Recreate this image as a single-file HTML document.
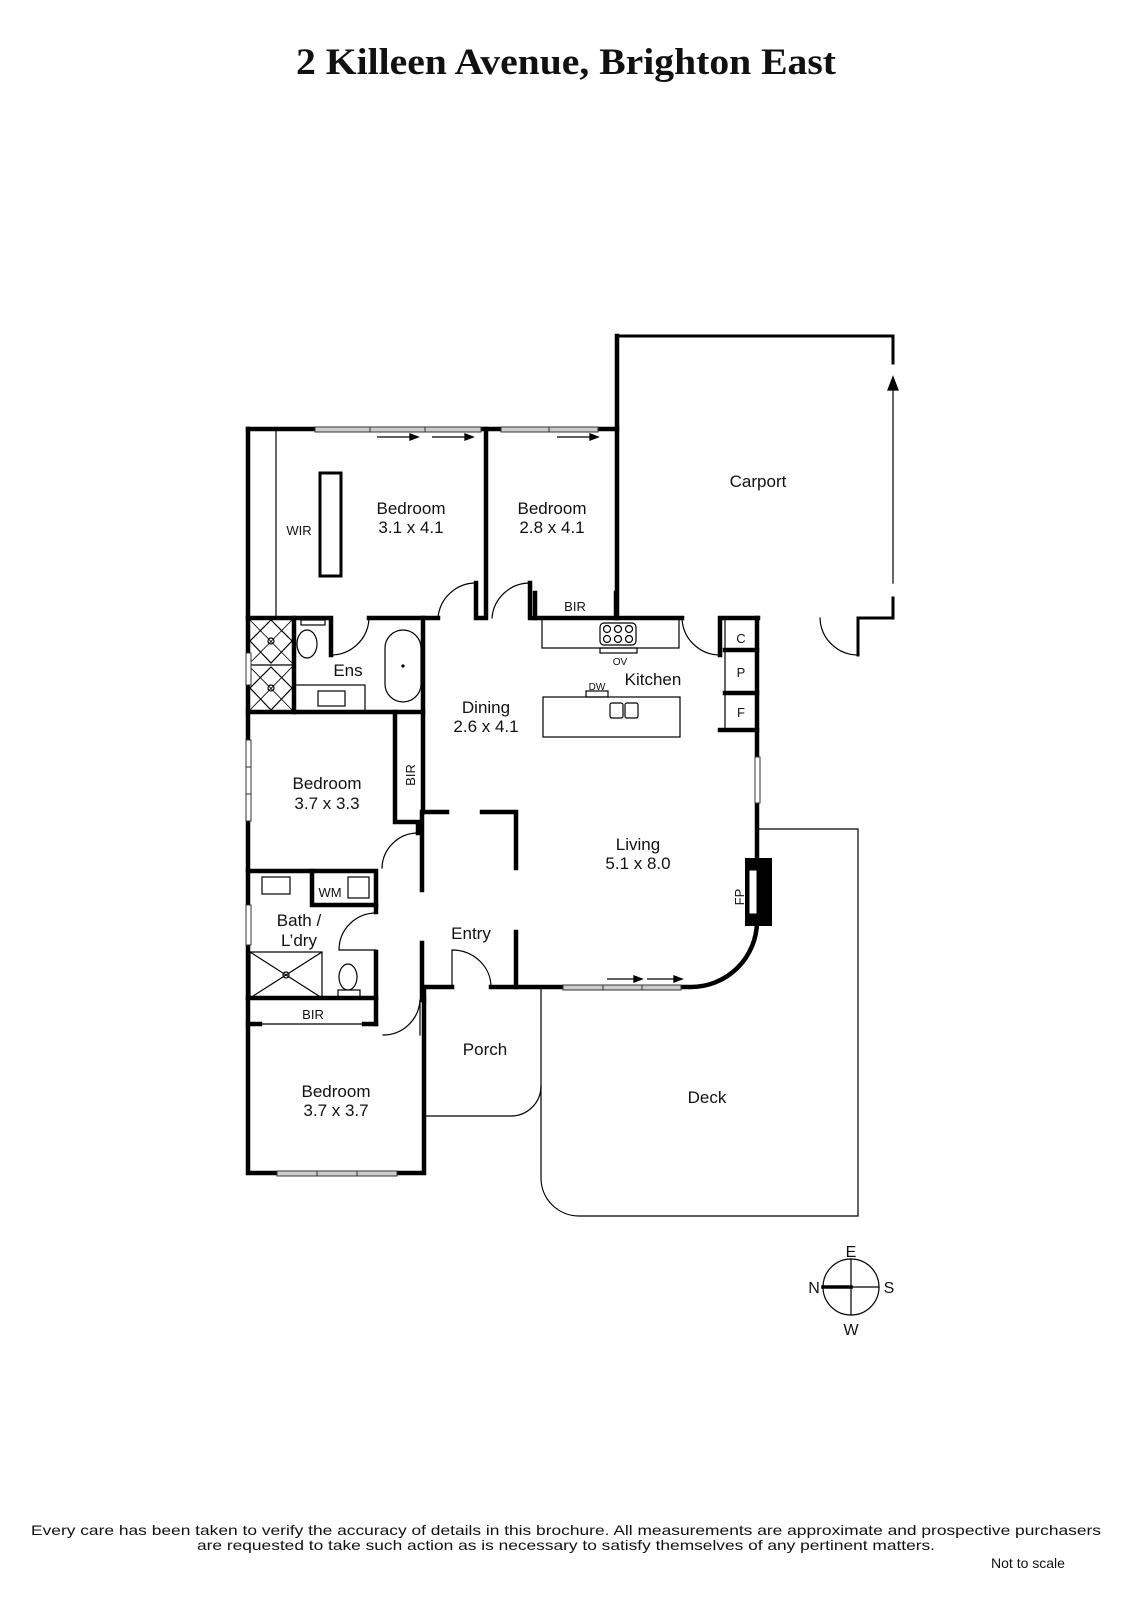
<!DOCTYPE html>
<html><head><meta charset="utf-8"><style>
html,body{margin:0;padding:0;background:#fff;}
svg{display:block;}
text{font-family:"Liberation Sans",sans-serif;fill:#111;}
</style></head><body>
<svg width="1131" height="1600" viewBox="0 0 1131 1600" xmlns="http://www.w3.org/2000/svg">
<text x="566" y="74" text-anchor="middle" textLength="540" lengthAdjust="spacingAndGlyphs" style="font-family:'Liberation Serif',serif;font-weight:bold;font-size:37px">2 Killeen Avenue, Brighton East</text>

<g fill="none" stroke="#000" stroke-linecap="square">
<g stroke-width="4.5">
<path d="M248,429 V1173 H424 V1000"/>
<path d="M248,429 H617"/>
<path d="M617,336 V618"/>
<path d="M486,429 V618 H476 V583"/>
<path d="M248,618 H331 V655"/>
<path d="M369,618 H438"/>
<path d="M530,583 V618 H682"/>
<path d="M535,593 V618 M616,593 V618"/>
<path d="M720,618 V655 M720,618 H758"/>
<path d="M757,618 V922 A66 66 0 0 1 691,987 H681"/>
<path d="M563,987 H491 M452,987 H424 V1000"/>
<path d="M516,932 V987"/>
<path d="M516,812 V868 M482,812 H516 M423,812 H447"/>
<path d="M423,618 V812"/>
<path d="M422,812 V890 M422,943 V1000"/>
<path d="M248,712 H423"/>
<path d="M395,712 V822 H418 V833"/>
<path d="M248,871 H376 V912 M376,952 V1024"/>
<path d="M248,1024 H260 M364,1024 H376"/>
<path d="M725,650 H757 M725,693 H757 M720,730 H757"/>
<path d="M294,618 V712"/>
<path d="M248,998 H376"/>
<path d="M312,871 V905 H376"/>
</g>
<g stroke-width="3">
<path d="M617,336 H893 V363"/>
<path d="M893,598 V618 H858 V655"/>
<path d="M758,618 H721"/>
</g>
<g stroke-width="1.2">
<path d="M276,429 V618"/>
<rect x="320" y="473" width="21" height="103" stroke-width="3"/>
<path d="M725,618 V730"/>
<path d="M476,583 A38 38 0 0 0 438,618"/>
<path d="M530,583 A38 38 0 0 0 492,618"/>
<path d="M331,655 A38 38 0 0 0 369,618"/>
<path d="M682,618 A38 38 0 0 0 720,655"/>
<path d="M858,655 A38 38 0 0 1 820,618"/>
<path d="M893,383 V583"/>
<rect x="542" y="618" width="137" height="30"/>
<rect x="600" y="623" width="36" height="22" rx="4"/>
<circle cx="607" cy="629" r="3.5"/><circle cx="618" cy="629" r="3.5"/><circle cx="629" cy="629" r="3.5"/>
<circle cx="607" cy="639" r="3.5"/><circle cx="618" cy="639" r="3.5"/><circle cx="629" cy="639" r="3.5"/>
<rect x="600" y="648" width="37" height="5"/>
<rect x="543" y="697" width="137" height="40"/>
<rect x="586" y="691" width="22" height="6"/>
<rect x="610" y="703" width="13" height="15" rx="2"/>
<rect x="625" y="703" width="13" height="15" rx="2"/>
<path d="M248,618 H294 M248,665 H294"/>
<path d="M271,620 L292,641 L271,663 L250,641 Z M271,667 L292,688 L271,710 L250,688 Z"/>
<path d="M248,618 L294,665 M294,618 L248,665 M248,665 L294,712 M294,665 L248,712" stroke-width="0.8"/>
<circle cx="271" cy="641" r="3"/><circle cx="271" cy="688" r="3"/>
<ellipse cx="307" cy="644" rx="10" ry="14"/>
<rect x="301" y="620" width="24" height="5"/>
<rect x="385" y="630" width="36" height="72" rx="18"/>
<circle cx="403" cy="666" r="1" fill="#000"/>
<rect x="294" y="685" width="71" height="27"/>
<rect x="318" y="691" width="27" height="15"/>
<path d="M417,833 A36 36 0 0 0 382,868"/>
<rect x="262" y="877" width="28" height="17"/>
<rect x="348" y="877" width="21" height="21"/>
<path d="M376,913 A37 37 0 0 0 339,950 H376"/>
<rect x="250" y="952" width="72" height="46"/>
<path d="M250,952 L322,998 M322,952 L250,998"/>
<circle cx="286" cy="975" r="3"/>
<ellipse cx="348" cy="977" rx="9" ry="13"/>
<rect x="338" y="990" width="22" height="8"/>
<path d="M260,1024 H364"/>
<path d="M420,1000 A37 37 0 0 1 383,1035 M420,1000 V1035"/>
<path d="M452,987 V950 A39 37 0 0 1 491,987"/>
<path d="M758,829 H858 V1216 H579 A38 38 0 0 1 541,1178 V987"/>
<path d="M424,1116 H511 A30 30 0 0 0 541,1086"/>
<circle cx="851" cy="1287" r="28"/>
<path d="M851,1259 V1315 M823,1287 H879"/>
</g>
<path d="M823,1287 H851" stroke-width="3.5"/>
<rect x="745" y="858" width="27" height="68" fill="#000" stroke="none"/>
<rect x="749" y="870" width="8" height="44" fill="#fff" stroke="#000" stroke-width="1"/>
</g>

<g fill="#ccc" stroke="#333" stroke-width="1">
<rect x="315" y="427" width="55" height="5"/><rect x="370" y="427" width="55" height="5"/><rect x="425" y="427" width="56" height="5"/>
<rect x="501" y="427" width="48" height="5"/><rect x="549" y="427" width="49" height="5"/>
<rect x="277" y="1171" width="40" height="5"/><rect x="317" y="1171" width="40" height="5"/><rect x="357" y="1171" width="40" height="5"/>
<rect x="563" y="985" width="40" height="5"/><rect x="603" y="985" width="39" height="5"/><rect x="642" y="985" width="39" height="5"/>
<rect x="246" y="653" width="5" height="32" fill="#fff"/>
<rect x="246" y="740" width="5" height="27" fill="#fff"/><rect x="246" y="767" width="5" height="27" fill="#fff"/><rect x="246" y="794" width="5" height="27" fill="#fff"/>
<rect x="246" y="905" width="5" height="40" fill="#fff"/>
<rect x="755" y="757" width="5" height="46" fill="#fff"/>
</g>
<g stroke="#000" stroke-width="1.3" fill="#000">
<path d="M377,437 H412"/><path d="M418,437 L410,434 V440 Z"/>
<path d="M432,437 H467"/><path d="M473,437 L465,434 V440 Z"/>
<path d="M557,437 H592"/><path d="M598,437 L590,434 V440 Z"/>
<path d="M607,979 H636"/><path d="M642,979 L634,976 V982 Z"/>
<path d="M647,979 H676"/><path d="M682,979 L674,976 V982 Z"/>
<path d="M893,377 L888,390 H898 Z"/>
</g>

<g font-size="17" text-anchor="middle">
<text x="411" y="514">Bedroom</text><text x="411" y="533">3.1 x 4.1</text>
<text x="552" y="514">Bedroom</text><text x="552" y="533">2.8 x 4.1</text>
<text x="758" y="487">Carport</text>
<text x="348" y="676">Ens</text>
<text x="653" y="685">Kitchen</text>
<text x="486" y="713">Dining</text><text x="486" y="732">2.6 x 4.1</text>
<text x="327" y="789">Bedroom</text><text x="327" y="809">3.7 x 3.3</text>
<text x="638" y="850">Living</text><text x="638" y="869">5.1 x 8.0</text>
<text x="299" y="926">Bath /</text><text x="299" y="946">L’dry</text>
<text x="471" y="939">Entry</text>
<text x="485" y="1055">Porch</text>
<text x="707" y="1103">Deck</text>
<text x="336" y="1097">Bedroom</text><text x="336" y="1116">3.7 x 3.7</text>
</g>
<g font-size="13" text-anchor="middle">
<text x="299" y="535">WIR</text>
<text x="575" y="611">BIR</text>
<text x="313" y="1019">BIR</text>
<text x="330" y="897">WM</text>
<text x="741" y="643">C</text><text x="741" y="677">P</text><text x="741" y="717">F</text>
<text x="415" y="775" transform="rotate(-90 415 775)">BIR</text>
<text x="744" y="897" transform="rotate(-90 744 897)">FP</text>
</g>
<g font-size="10" text-anchor="middle"><text x="620" y="665">OV</text><text x="597" y="690">DW</text></g>
<g font-size="16" text-anchor="middle">
<text x="851" y="1257">E</text><text x="851" y="1335">W</text><text x="814" y="1293">N</text><text x="889" y="1293">S</text>
</g>
<g font-size="14" text-anchor="middle">
<text x="566" y="1535" textLength="1070" lengthAdjust="spacingAndGlyphs">Every care has been taken to verify the accuracy of details in this brochure.  All measurements are approximate and prospective purchasers</text>
<text x="566" y="1550" textLength="738" lengthAdjust="spacingAndGlyphs">are requested to take such action as is necessary to satisfy themselves of any pertinent matters.</text>
<text x="1028" y="1568">Not to scale</text>
</g>
</svg>
</body></html>
